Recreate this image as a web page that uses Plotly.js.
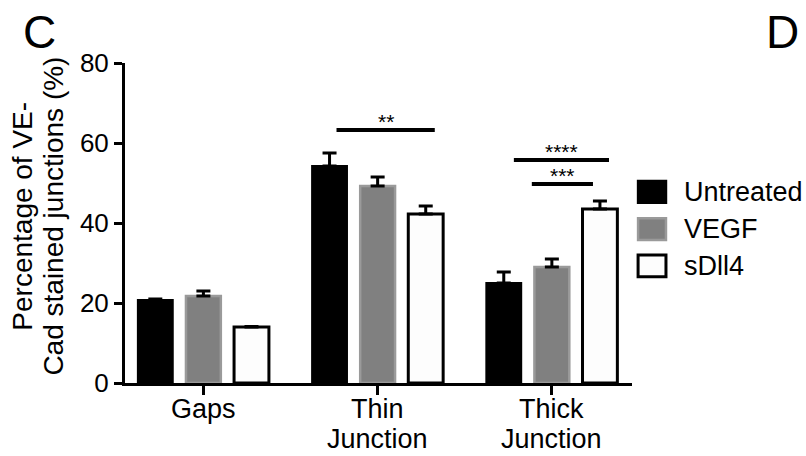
<!DOCTYPE html>
<html><head><meta charset="utf-8">
<script src="https://cdn.plot.ly/plotly-3.0.1.min.js"></script>
<style>body{margin:0;background:#fff}#chart{width:806px;height:456px}</style>
</head><body><div id="chart"></div>
<script>
const categories = ["Gaps", "Thin<br>Junction", "Thick<br>Junction"];
const seriesNames = ["Untreated", "VEGF", "sDll4"];
const untreated = [20.75, 54.25, 25.0];
const untreatedErr = [0.25, 3.25, 2.75];
const vegf = [21.75, 49.25, 29.0];
const vegfErr = [1.25, 2.25, 2.0];
const sdll4 = [14.0, 42.25, 43.5];
const sdll4Err = [0.1, 2.0, 2.0];
const yTicks = [0, 20, 40, 60, 80];
const yTitleLines = ["Percentage of VE-", "Cad stained junctions (%)"];
const sigLabels = ["**", "****", "***"];
const sigLevels = [63.25, 55.75, 49.75];

const FONT = "Liberation Sans, Arial, Helvetica, sans-serif";
const xIdx = [0, 1, 2];
const fills = ["#000000", "#808080", "#fdfdfd"];
const outlines = ["#000000", "#9a9a9a", "#000000"];
const outlineW = [2, 2.5, 3];
const seriesY = [untreated, vegf, sdll4];
const seriesErr = [untreatedErr, vegfErr, sdll4Err];

const data = seriesNames.map((name, i) => ({
  type: "bar", name: name, x: xIdx, y: seriesY[i],
  marker: {color: fills[i], line: {color: outlines[i], width: outlineW[i]}},
  error_y: {type: "data", symmetric: false, array: seriesErr[i], arrayminus: seriesErr[i].map(() => 0),
    color: "#000", thickness: 3, width: 7},
  hoverinfo: "none", showlegend: false
}));

const sigX = [[0.764, 1.328], [1.782, 2.328], [1.885, 2.236]];
const shapes = sigX.map((s, i) => ({type: "line", xref: "x", yref: "y",
  x0: s[0], x1: s[1], y0: sigLevels[i], y1: sigLevels[i], line: {color: "#000", width: 4}}));
const annotations = sigX.map((s, i) => ({xref: "x", yref: "y", x: (s[0] + s[1]) / 2, y: sigLevels[i],
  text: sigLabels[i], showarrow: false, yanchor: "bottom", yshift: -5, font: {family: FONT, size: 21, color: "#000"}}));

// panel letters
annotations.push({xref: "paper", yref: "paper", x: -0.168, y: 1.097, xanchor: "center", yanchor: "middle",
  text: "C", showarrow: false, font: {family: FONT, size: 46, color: "#000"}});
annotations.push({xref: "paper", yref: "paper", x: 1.296, y: 1.097, xanchor: "center", yanchor: "middle",
  text: "D", showarrow: false, font: {family: FONT, size: 46, color: "#000"}});

// y axis title, two rotated lines
const titleX = [-0.201, -0.140];
yTitleLines.forEach((t, i) => annotations.push({xref: "paper", yref: "paper", x: titleX[i], y: 0.52,
  xanchor: "center", yanchor: "middle", textangle: -90, text: t, showarrow: false,
  font: {family: FONT, size: 28, color: "#000"}}));

// category labels, one annotation per line (tighter line spacing)
const lineY = [-0.080, -0.174];
categories.forEach((c, ci) => c.split("<br>").forEach((ln, li) => annotations.push({
  xref: "x", yref: "paper", x: xIdx[ci], y: lineY[li], xanchor: "center", yanchor: "middle",
  text: ln, showarrow: false, font: {family: FONT, size: 27, color: "#000"}})));

// legend drawn as keys + labels
const legY = [0.597, 0.481, 0.366];
const keyH = 0.034;
seriesNames.forEach((name, i) => {
  shapes.push({type: "rect", xref: "paper", yref: "paper", x0: 1.012, x1: 1.067,
    y0: legY[i] - keyH, y1: legY[i] + keyH, fillcolor: fills[i],
    line: {color: i === 1 ? "#9a9a9a" : "#000", width: i === 2 ? 3 : 2.5}});
  annotations.push({xref: "paper", yref: "paper", x: 1.098, y: legY[i], xanchor: "left", yanchor: "middle",
    text: name, showarrow: false, font: {family: FONT, size: 27, color: "#000"}});
});

const layout = {
  width: 806, height: 456,
  margin: {l: 125, r: 174, t: 63, b: 73, pad: 0},
  paper_bgcolor: "#fff", plot_bgcolor: "#fff",
  font: {family: FONT, color: "#000"},
  barmode: "group", bargap: 0.172, bargroupgap: 0.275,
  showlegend: false,
  xaxis: {range: [-0.45, 2.46], tickvals: xIdx, ticktext: ["", "", ""], showline: true, linecolor: "#000", linewidth: 3,
    ticks: "outside", ticklen: 9, tickwidth: 3, tickcolor: "#000", showgrid: false, zeroline: false,
    automargin: false},
  yaxis: {range: [0, 80], tickvals: yTicks, showline: true, linecolor: "#000", linewidth: 3,
    ticks: "outside", ticklen: 8, tickwidth: 3, tickcolor: "#000", showgrid: false, zeroline: false,
    tickfont: {family: FONT, size: 26, color: "#000"}, automargin: false},
  shapes: shapes, annotations: annotations
};
Plotly.newPlot("chart", data, layout, {displayModeBar: false, staticPlot: true});
</script></body></html>
